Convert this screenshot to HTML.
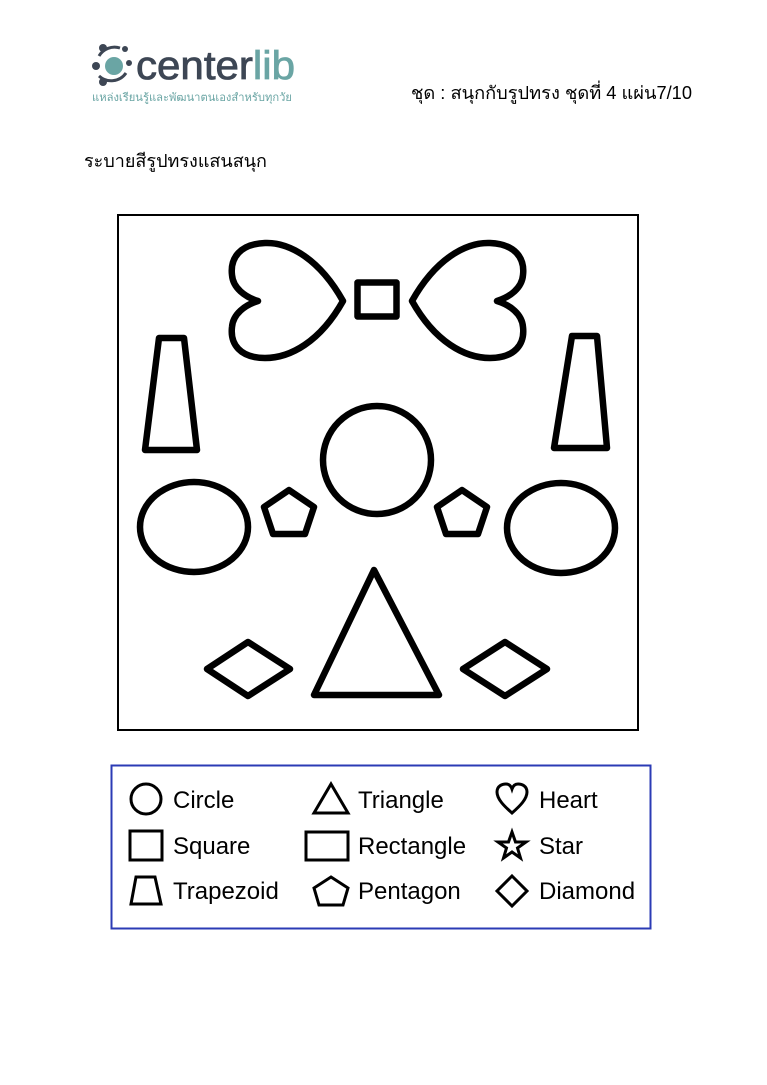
<!DOCTYPE html>
<html><head><meta charset="utf-8"><style>
html,body{margin:0;padding:0;background:#fff;}
body{width:767px;height:1080px;overflow:hidden;}
</style></head><body>
<svg width="767" height="1080" xmlns="http://www.w3.org/2000/svg">
<!-- logo -->
<g>
<circle cx="114" cy="66" r="9" fill="#6aa5a4"/>
<circle cx="103" cy="48" r="4" fill="#3d4654"/>
<circle cx="96" cy="66" r="4" fill="#3d4654"/>
<circle cx="103" cy="82" r="4" fill="#3d4654"/>
<circle cx="125" cy="49" r="3" fill="#3d4654"/>
<circle cx="129" cy="63" r="3" fill="#3d4654"/>
<path d="M99 56 A18 18 0 0 1 120 48" stroke="#3d4654" stroke-width="3" fill="none"/>
<path d="M99 76 A18 18 0 0 0 126 73" stroke="#3d4654" stroke-width="3" fill="none"/>
<text x="136" y="79" font-family="Liberation Sans, sans-serif" font-size="40" fill="#3d4654" stroke="#3d4654" stroke-width="0.8" textLength="159" lengthAdjust="spacingAndGlyphs">center<tspan fill="#6aa5a4" stroke="#6aa5a4">lib</tspan></text>
<text x="92" y="101" font-family="Liberation Sans, 'Noto Sans CJK SC', sans-serif" font-size="11" fill="#6aa5a4" textLength="200" lengthAdjust="spacingAndGlyphs">แหล่งเรียนรู้และพัฒนาตนเองสำหรับทุกวัย</text>
</g>
<text x="411" y="99" font-family="Liberation Sans, 'Noto Sans CJK SC', sans-serif" font-size="18" fill="#000" textLength="281" lengthAdjust="spacingAndGlyphs">ชุด : สนุกกับรูปทรง  ชุดที่ 4 แผ่น7/10</text>
<text x="84" y="167" font-family="Liberation Sans, 'Noto Sans CJK SC', sans-serif" font-size="18" fill="#000">ระบายสีรูปทรงแสนสนุก</text>

<rect x="118" y="215" width="520" height="515" fill="none" stroke="#000" stroke-width="2"/>
<g fill="none" stroke="#000" stroke-width="6.5" stroke-linejoin="round">
<path d="M343,301 C320,260 290,242 265,243 C240,244 230,258 232,275 C233,288 245,297 258,301 C245,305 233,314 232,327 C230,344 240,358 265,358 C290,358 320,342 343,301 Z"/>
<path transform="translate(755,0) scale(-1,1)" d="M343,301 C320,260 290,242 265,243 C240,244 230,258 232,275 C233,288 245,297 258,301 C245,305 233,314 232,327 C230,344 240,358 265,358 C290,358 320,342 343,301 Z"/>
<rect x="357.5" y="282.5" width="39" height="34"/>
<polygon points="159,338 184,338 197,450 145,450"/>
<polygon points="572,336 597,336 607,448 554,448"/>
<circle cx="377" cy="460" r="54"/>
<ellipse cx="194" cy="527" rx="54" ry="45"/>
<ellipse cx="561" cy="528" rx="54" ry="45"/>
<polygon points="289,490 314,507 305,534 273,534 264,507"/>
<polygon points="462,490 487,507 478,534 446,534 437,507"/>
<polygon points="374,570 439,695 314,695"/>
<polygon points="248,642 290,669 248,696 207,669"/>
<polygon points="505,642 547,669 505,696 463,669"/>
</g>

<rect x="111.5" y="765.5" width="539" height="163" fill="none" stroke="#2b3bb5" stroke-width="2"/>
<g fill="none" stroke="#000" stroke-width="3" stroke-linejoin="miter">
<circle cx="146" cy="799" r="15"/>
<rect x="130" y="831" width="32" height="29"/>
<polygon points="136,877 155,877 161,904 131,904"/>
<polygon points="331,784 348,813 314,813"/>
<rect x="306" y="832" width="42" height="28"/>
<polygon points="331,877 348,888 343,905 319,905 314,888"/>
<path d="M512,813 C504,806 497,799 497,792 C497,786 502,784 506,784 C509,784 511,786 512,789 C513,786 515,784 518,784 C522,784 527,786 527,792 C527,799 520,806 512,813 Z"/>
<polygon points="512,832 515.5,842 526,842 517.5,848 520.5,858 512,852 503.5,858 506.5,848 498,842 508.5,842"/>
<polygon points="512,876 527,891 512,906 497,891"/>
</g>
<g font-family="Liberation Sans, sans-serif" font-size="24" fill="#000">
<text x="173" y="808">Circle</text>
<text x="173" y="854">Square</text>
<text x="173" y="899">Trapezoid</text>
<text x="358" y="808">Triangle</text>
<text x="358" y="854">Rectangle</text>
<text x="358" y="899">Pentagon</text>
<text x="539" y="808">Heart</text>
<text x="539" y="854">Star</text>
<text x="539" y="899">Diamond</text>
</g>
</svg>
</body></html>
